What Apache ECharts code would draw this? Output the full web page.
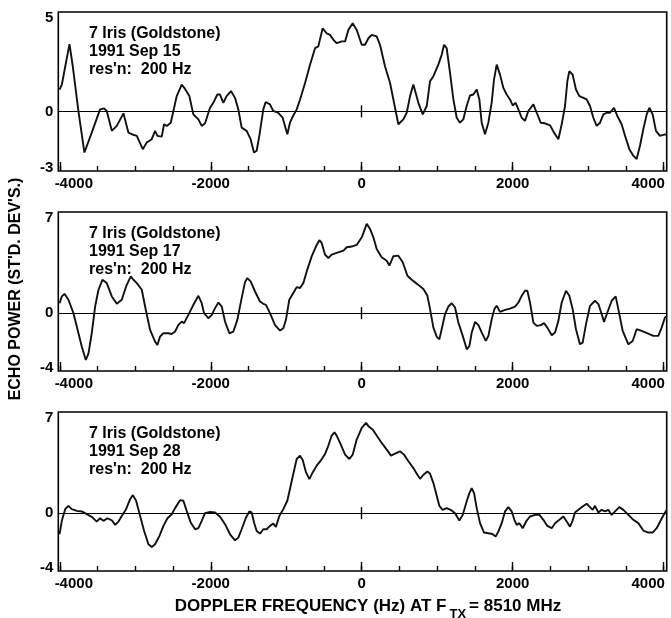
<!DOCTYPE html>
<html>
<head>
<meta charset="utf-8">
<script src="https://cdn.jsdelivr.net/npm/echarts@6/dist/echarts.min.js"></script>
<style>
  html, body { margin: 0; padding: 0; background: #fff; }
  #chart { width: 671px; height: 618px; }
</style>
</head>
<body>
<div id="chart"></div>
<script>
// Doppler echo spectra of 7 Iris, Goldstone 1991 (frequency in Hz, power in standard deviations)
const sep15Freq = [-4004,-3973,-3872,-3828,-3753,-3674,-3577,-3467,-3413,-3378,-3311,-3245,-3157,-3091,-3047,-2980,-2901,-2848,-2782,-2738,-2707,-2650,-2619,-2583,-2530,-2451,-2385,-2341,-2284,-2231,-2164,-2120,-2076,-2010,-1966,-1913,-1878,-1834,-1790,-1732,-1679,-1635,-1591,-1525,-1472,-1428,-1392,-1357,-1304,-1273,-1216,-1172,-1106,-1048,-986,-951,-915,-862,-817,-751,-685,-619,-575,-518,-465,-420,-376,-331,-265,-221,-177,-120,-67,0,44,88,132,198,242,308,375,419,454,485,551,596,640,684,750,808,861,905,949,1015,1059,1090,1125,1170,1214,1258,1302,1346,1390,1434,1478,1523,1558,1589,1633,1677,1721,1752,1788,1832,1876,1920,1964,2000,2039,2075,2119,2163,2207,2274,2318,2371,2428,2494,2547,2605,2649,2693,2724,2750,2794,2838,2883,2936,2980,3024,3068,3112,3157,3201,3245,3289,3342,3386,3443,3488,3545,3598,3642,3686,3730,3775,3810,3854,3898,3951,3995,4039];
const sep15Power = [1.1,1.35,3.38,2.27,0.0,-2.07,-1.07,0.1,0.15,0.02,-0.98,-0.73,-0.1,-1.07,-1.15,-1.23,-1.9,-1.57,-1.4,-0.98,-1.23,-1.27,-0.65,-0.73,-0.57,0.77,1.35,1.13,0.77,-0.15,-0.4,-0.73,-0.6,0.18,0.43,0.85,0.85,0.43,0.77,1.02,0.68,0.1,-0.82,-0.98,-1.4,-2.07,-1.98,-1.23,0.1,0.47,0.35,0.02,-0.07,-0.32,-1.15,-0.57,-0.27,0.1,0.6,1.43,2.35,3.18,3.27,4.18,3.93,3.85,3.6,3.43,3.52,3.52,4.1,4.43,4.1,3.35,3.35,3.68,3.85,3.77,3.35,2.27,1.43,0.6,-0.07,-0.65,-0.4,-0.07,0.77,1.35,0.43,-0.15,0.27,1.52,1.77,2.35,2.85,3.35,3.18,1.93,0.6,-0.32,-0.57,-0.4,0.27,0.8,0.85,1.1,0.6,-0.57,-1.15,-0.57,0.43,1.6,2.35,1.85,1.18,0.85,0.6,0.3,0.43,0.1,-0.32,-0.48,0.02,0.35,-0.07,-0.57,-0.6,-0.7,-1.07,-1.4,-0.65,0.27,1.52,2.02,1.85,1.1,0.77,0.68,0.6,0.27,-0.32,-0.73,-0.57,-0.15,-0.07,-0.07,0.18,-0.23,-0.65,-1.23,-1.9,-2.23,-2.4,-1.73,-0.9,-0.15,0.18,-0.15,-0.98,-1.23,-1.18,-1.15];

const sep17Freq = [-4004,-3973,-3938,-3886,-3819,-3753,-3709,-3656,-3620,-3577,-3532,-3488,-3435,-3378,-3311,-3245,-3179,-3122,-3060,-3025,-2980,-2914,-2870,-2804,-2738,-2707,-2672,-2628,-2561,-2517,-2473,-2429,-2385,-2354,-2297,-2231,-2164,-2120,-2089,-2032,-1987,-1943,-1899,-1855,-1811,-1754,-1701,-1648,-1591,-1547,-1516,-1472,-1414,-1348,-1304,-1269,-1216,-1150,-1083,-1039,-1004,-960,-907,-862,-818,-774,-729,-663,-606,-562,-531,-486,-442,-398,-332,-309,-243,-199,-133,-67,0,66,110,154,198,264,331,366,419,485,543,605,662,737,817,870,905,949,993,1028,1059,1103,1148,1192,1236,1280,1338,1391,1426,1457,1502,1546,1590,1643,1678,1722,1757,1788,1832,1898,1964,2031,2075,2119,2163,2194,2229,2274,2318,2371,2415,2459,2517,2561,2605,2649,2706,2750,2794,2838,2891,2927,2971,3024,3090,3135,3179,3210,3254,3311,3364,3399,3457,3532,3589,3642,3708,3796,3863,3929,3973,4017,4039];
const sep17Power = [0.69,1.16,1.34,0.93,0,-1.39,-2.31,-3.24,-2.78,-1.39,0.46,1.62,2.31,2.08,1.16,0.65,0.93,1.85,2.55,2.31,2.08,1.62,0.46,-1.16,-1.97,-2.2,-1.62,-1.39,-1.39,-1.44,-1.27,-0.81,-0.58,-0.69,-0.12,0.58,1.2,0.69,0,-0.35,-0.12,0.35,0.74,0.46,-0.58,-1.39,-1.27,-0.46,1.04,2.13,2.43,2.2,1.5,0.81,0.65,0.58,0,-0.81,-1.2,-1.04,-0.46,0.93,1.39,1.8,1.74,2.08,2.89,3.93,4.63,5.05,4.86,4.05,3.82,4.05,4.17,4.21,4.33,4.56,4.61,4.72,5.25,6.18,5.83,5.25,4.44,3.87,3.63,3.29,3.94,3.98,3.52,2.59,2.31,2.01,1.67,1.2,0.28,-1.0,-1.62,-1.81,-1.11,-0.07,0.46,0.69,0.39,-0.65,-1.57,-2.5,-2.27,-1.34,-0.6,-0.83,-1.34,-1.92,-1.57,-0.42,0.28,0.51,0.09,0.23,0.32,0.46,0.74,1.2,1.55,1.55,0.74,-0.65,-0.88,-0.83,-0.69,-1.0,-1.53,-1.34,-0.53,0.74,1.55,1.2,0.28,-1.11,-2.15,-2.04,-0.76,0.51,0.86,0.63,-0.07,-0.6,0.05,0.86,1.16,0.28,-1.23,-2.15,-1.92,-1.11,-1.23,-1.41,-1.57,-1.57,-1.0,-0.3,-0.23];

const sep28Freq = [-4004,-3973,-3929,-3886,-3841,-3775,-3709,-3643,-3577,-3511,-3467,-3422,-3369,-3311,-3267,-3223,-3179,-3122,-3069,-3033,-2989,-2936,-2883,-2826,-2782,-2738,-2680,-2627,-2574,-2517,-2473,-2407,-2363,-2319,-2266,-2208,-2164,-2120,-2076,-2010,-1943,-1877,-1811,-1745,-1679,-1635,-1591,-1533,-1489,-1458,-1427,-1392,-1348,-1304,-1260,-1216,-1172,-1137,-1092,-1039,-986,-951,-907,-862,-818,-782,-738,-694,-650,-597,-544,-486,-442,-398,-362,-331,-287,-221,-164,-120,-67,0,57,88,145,198,264,331,388,441,507,560,618,684,737,773,817,870,905,949,984,1028,1072,1125,1178,1236,1293,1337,1390,1426,1457,1488,1523,1567,1620,1677,1730,1774,1810,1854,1898,1942,1987,2022,2053,2088,2132,2185,2229,2296,2353,2406,2459,2517,2561,2618,2671,2715,2759,2794,2825,2870,2927,2980,3024,3060,3090,3135,3179,3223,3267,3311,3355,3413,3466,3532,3598,3664,3730,3797,3854,3907,3960,4017,4039];
const sep28Power = [-1.46,-0.53,0.28,0.51,0.28,0.16,0.12,-0.07,-0.25,-0.58,-0.35,-0.53,-0.35,-0.49,-0.81,-0.58,-0.19,0.28,0.97,1.25,0.86,-0.19,-1.23,-2.15,-2.34,-2.15,-1.57,-0.88,-0.35,-0.07,0.35,0.9,0.86,0.16,-0.65,-1.11,-1.04,-0.53,0,0.09,0.05,-0.25,-0.76,-1.46,-1.88,-1.69,-1.11,-0.3,0.12,0.05,-0.65,-1.23,-1.41,-1.11,-1.11,-0.88,-0.72,-0.95,-0.19,0.28,0.86,1.67,2.71,3.75,3.98,3.68,2.82,2.36,2.82,3.29,3.63,4.1,4.68,5.37,5.6,5.35,4.86,4.05,3.75,4.05,5.09,5.9,6.25,6.02,5.79,5.37,4.86,4.4,3.98,4.12,4.28,4.05,3.59,3.12,2.66,2.38,2.66,2.89,2.73,2.08,1.39,0.51,0.23,0.35,0.23,0,-0.51,-0.12,0.81,1.39,1.74,1.39,0.35,-0.69,-1.34,-1.39,-1.44,-1.62,-1.27,-0.69,0.12,0.42,0.12,-0.46,-0.81,-0.69,-1.04,-0.51,-0.23,-0.12,-0.12,-0.46,-0.88,-1.04,-0.69,-0.46,-0.23,-0.58,-0.93,-0.51,0.05,0.23,0.46,0.65,0.42,0.23,0.51,0.05,0.23,0.12,0.23,-0.12,0.12,0.42,0.23,-0.12,-0.46,-0.69,-1.2,-1.34,-1.34,-1.04,-0.51,0.05,0.2];

const panelDates = ['1991 Sep 15', '1991 Sep 17', '1991 Sep 28'];
const yRanges = [[-3, 5], [-4, 7], [-4, 7]];
const yTickLabels = [[-3, 0, 5], [-4, 0, 7], [-4, 0, 7]];
const xMinorTicks = [-4000,-3500,-3000,-2500,-2000,-1500,-1000,-500,0,500,1000,1500,2000,2500,3000,3500,4000];
const xTickLabels = [-4000, -2000, 0, 2000, 4000];
const xRange = [-4020, 4040];

const series = [
  { freq: sep15Freq, power: sep15Power },
  { freq: sep17Freq, power: sep17Power },
  { freq: sep28Freq, power: sep28Power }
];

const FONT = '"Liberation Sans", Arial, Helvetica, sans-serif';
const tickLine = { color: '#000', width: 1.4 };
const labelBase = { fontFamily: FONT, fontWeight: 'bold', fontSize: 15, color: '#000' };

const gridTops = [12, 212, 412];
const grids = gridTops.map(t => ({
  left: 58.3, right: 4.3, top: t, height: 159,
  show: true, borderColor: '#000', borderWidth: 1.6, backgroundColor: 'transparent'
}));

const xAxes = [];
const yAxes = [];
const lines = [];
const texts = [];

series.forEach((s, i) => {
  const base = { type: 'value', gridIndex: i, min: xRange[0], max: xRange[1], splitLine: { show: false } };
  // ticks every 500 Hz, labelled every 2000 Hz
  xAxes.push(Object.assign({}, base, {
    position: 'bottom',
    axisLine: { show: false, onZero: false },
    axisTick: { show: true, inside: true, length: 5, customValues: xMinorTicks, lineStyle: tickLine },
    axisLabel: {
      show: true, customValues: xTickLabels, margin: 5,
      fontFamily: FONT, fontWeight: 'bold', fontSize: 15, color: '#000',
      formatter: v => v === xTickLabels[0] ? '{l|' + v + '}' :
                      v === xTickLabels[xTickLabels.length - 1] ? '{r|' + v + '}' : '{m|' + v + '}',
      rich: {
        l: Object.assign({ padding: [0, 0, 0, 28] }, labelBase),
        r: Object.assign({ padding: [0, 31, 0, 0] }, labelBase),
        m: Object.assign({}, labelBase)
      }
    }
  }));
  // longer ticks at the labelled values
  xAxes.push(Object.assign({}, base, {
    position: 'bottom',
    axisLine: { show: false, onZero: false },
    axisTick: { show: true, inside: true, length: 9, customValues: xTickLabels, lineStyle: tickLine },
    axisLabel: { show: false }
  }));
  // zero-power baseline with a short mark at 0 Hz
  xAxes.push(Object.assign({}, base, {
    position: 'bottom',
    axisLine: { show: true, onZero: true, onZeroAxisIndex: i, lineStyle: { color: '#000', width: 1 } },
    axisTick: { show: true, inside: true, length: 6, customValues: [0], lineStyle: tickLine },
    axisLabel: { show: false }
  }));
  xAxes.push(Object.assign({}, base, {
    position: 'bottom',
    axisLine: { show: true, onZero: true, onZeroAxisIndex: i, lineStyle: { color: '#000', width: 0, opacity: 0 } },
    axisTick: { show: true, inside: false, length: 6, customValues: [0], lineStyle: tickLine },
    axisLabel: { show: false }
  }));

  const [ymin, ymax] = yRanges[i];
  yAxes.push({
    type: 'value', gridIndex: i, min: ymin, max: ymax,
    splitLine: { show: false },
    axisLine: { show: false, onZero: false },
    axisTick: { show: false },
    axisLabel: {
      customValues: yTickLabels[i], margin: 5,
      fontFamily: FONT, fontWeight: 'bold', fontSize: 15, color: '#000',
      formatter: v => v === ymax ? '{t|' + v + '}' : v === ymin ? '{b|' + v + '}' : '{m|' + v + '}',
      rich: {
        t: Object.assign({ padding: [12, 0, 0, 0] }, labelBase),
        b: Object.assign({ padding: [0, 0, 6, 0] }, labelBase),
        m: Object.assign({}, labelBase)
      }
    }
  });

  lines.push({
    type: 'line',
    xAxisIndex: i * 4,
    yAxisIndex: i,
    data: s.freq.map((f, k) => [f, s.power[k]]),
    showSymbol: false,
    symbol: 'none',
    smooth: false,
    lineStyle: { color: '#111', width: 1.9 },
    silent: true,
    z: 3
  });

  texts.push({
    type: 'text',
    left: 89,
    top: gridTops[i] + 12,
    style: {
      text: '7 Iris (Goldstone)\n' + panelDates[i] + "\nres'n:  200 Hz",
      font: 'bold 16px ' + FONT,
      lineHeight: 18.2,
      fill: '#000'
    }
  });
});

// axis titles
texts.push({
  type: 'text',
  x: 16, y: 289,
  rotation: Math.PI / 2,
  style: {
    text: "ECHO POWER (ST'D. DEV'S.)",
    font: 'bold 16px ' + FONT,
    textAlign: 'center',
    textVerticalAlign: 'middle',
    fill: '#000'
  }
});
texts.push({
  type: 'text',
  x: 368, y: 607,
  style: {
    text: '{a|DOPPLER FREQUENCY (Hz) AT F}{s|TX}{a|= 8510 MHz}',
    textAlign: 'center',
    textVerticalAlign: 'middle',
    rich: {
      a: { font: 'bold 17px ' + FONT, fill: '#000', lineHeight: 18, verticalAlign: 'top' },
      s: { font: 'bold 13px ' + FONT, fill: '#000', lineHeight: 13, padding: [10, 3, 0, 3], verticalAlign: 'top' }
    }
  }
});

const chart = echarts.init(document.getElementById('chart'), null, { renderer: 'canvas' });
chart.setOption({
  animation: false,
  backgroundColor: '#fff',
  grid: grids,
  xAxis: xAxes,
  yAxis: yAxes,
  series: lines,
  graphic: texts
});
</script>
</body>
</html>
